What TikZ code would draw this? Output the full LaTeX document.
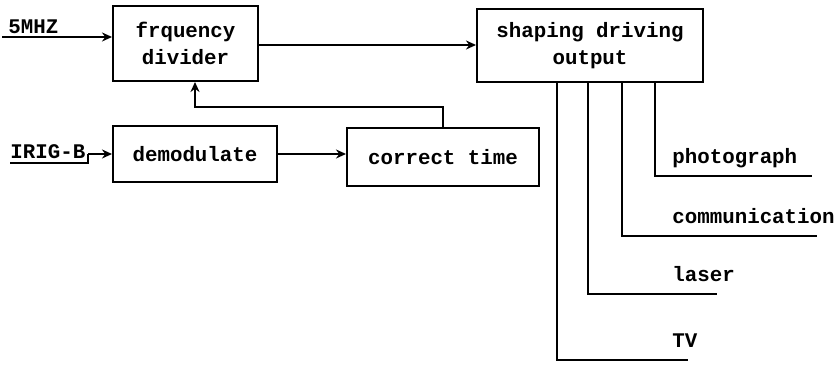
\documentclass[tikz,border=0pt]{standalone}
\usepackage{fontspec}
\setmonofont{Liberation Mono}
\usetikzlibrary{arrows.meta,positioning}
\tikzset{
  blok/.style={draw, line width=1pt, inner sep=0pt, align=center,
    font=\ttfamily\bfseries\fontsize{10.4}{13.5}\selectfont},
  lab/.style={inner sep=0pt, font=\ttfamily\bfseries\fontsize{10.4}{13}\selectfont},
  lig/.style={line width=1pt},
  seta/.style={line width=1pt, -{Stealth[length=5pt,width=4.5pt]}}
}
\begin{document}
\begin{tikzpicture}[x=0.5pt,y=-0.5pt]
  \useasboundingbox (0,0) rectangle (840,367);
  % Blocos
  \node[blok, minimum width=72.5pt, minimum height=37.5pt] (div) at (185.5,43.5) {frquency\\divider};
  \node[blok, minimum width=113pt, minimum height=36.5pt] (out) at (590,45.5) {shaping driving\\output};
  \node[blok, minimum width=82pt, minimum height=28pt] (dem) at (195,154) {demodulate};
  \node[blok, minimum width=96pt, minimum height=29pt] (cor) at (443,157) {correct time};

  % Entradas
  \node[lab, anchor=base west] (mhz) at (8,34) {5MHZ};
  \coordinate (e1) at (2,37);
  \draw[seta] (e1) -- (e1 -| div.west);
  \node[lab, anchor=base west] (irig) at (10,159) {IRIG-B};
  \coordinate (e2) at (10,163);
  \coordinate (e3) at (88,163);
  \draw[lig] (e2) -- (e3) -- (88,154);
  \draw[seta] (88,154) -- (dem.west |- 0,154);

  % Ligacoes
  \draw[seta] (div.east |- 0,45) -- (out.west |- 0,45);
  \draw[seta] (dem.east |- 0,154) -- (cor.west |- 0,154);
  \draw[seta] (cor.north) -- (443,107) -- (195,107) -- (div.south -| 195,0);

  % Saidas
  \foreach \xa/\ya/\xb/\txt/\nm in {655/176/812/photograph/pho,
                                    622/236/817/communication/com,
                                    588/294/717/laser/las,
                                    557/360/688/TV/tv}{
    \draw[lig] (out.south -| \xa,0) -- (\xa,\ya) -- (\xb,\ya);
    \node[lab, anchor=base west] (\nm) at (672,\ya-12) {\txt};
  }
\end{tikzpicture}
\end{document}
